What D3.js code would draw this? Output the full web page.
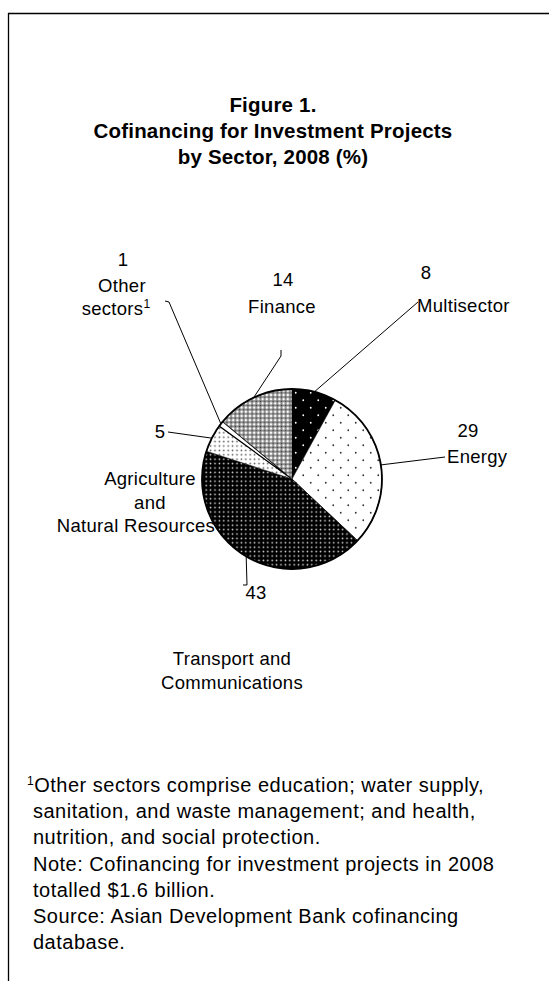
<!DOCTYPE html>
<html>
<head>
<meta charset="utf-8">
<script src="https://cdn.jsdelivr.net/npm/d3@7"></script>
<style>
  html, body { margin: 0; padding: 0; background: #fff; }
  svg { display: block; }
  text { font-family: "Liberation Sans", Arial, sans-serif; fill: #000; }
</style>
</head>
<body>
<div id="chart"></div>
<script>
// ---- data ----
const sectors = ["Multisector", "Energy", "Transport and Communications", "Agriculture and Natural Resources", "Other sectors", "Finance"];
const shares  = [8, 29, 43, 5, 1, 14];
const valueLabels = ["8", "29", "43", "5", "1", "14"];
const titleLines = ["Figure 1.", "Cofinancing for Investment Projects", "by Sector, 2008 (%)"];
const noteLines = [
  "Other sectors comprise education; water supply,",
  "sanitation, and waste management; and health,",
  "nutrition, and social protection.",
  "Note: Cofinancing for investment projects in 2008",
  "totalled $1.6 billion.",
  "Source: Asian Development Bank cofinancing",
  "database."
];

// ---- layout ----
const W = 549, H = 981;
const cx = 292, cy = 479, R = 90;
const patterns = ["pMulti", "pEnergy", "pTrans", "pAgri", "pOther", "pFin"];
const labelLayout = [
  { value: [426, 279, "middle"], name: [[417, 312, "start", "Multisector"]], leader: [[418, 302]] },
  { value: [468, 437, "middle"], name: [[447, 463, "start", "Energy"]], leader: [[445, 457]] },
  { value: [256, 599, "middle"], name: [[232, 665, "middle", "Transport and"], [232, 689, "middle", "Communications"]], leader: [[247, 585], [243, 585]] },
  { value: [160, 438, "middle"], name: [[150, 485, "middle", "Agriculture"], [150, 509, "middle", "and"], [136, 532, "middle", "Natural Resources"]], leader: [[168, 432]] },
  { value: [123, 266, "middle"], name: [[122, 292, "middle", "Other"], [116, 315, "middle", "sectors"]], leader: [[169, 302], [165, 301]] },
  { value: [283, 286, "middle"], name: [[282, 313, "middle", "Finance"]], leader: [[281, 356], [281, 350]] }
];

const svg = d3.select("#chart").append("svg").attr("width", W).attr("height", H);

// patterns
const defs = svg.append("defs");
function dotPattern(id, size, bg, dot, r, stagger) {
  const p = defs.append("pattern").attr("id", id).attr("patternUnits", "userSpaceOnUse")
    .attr("width", size).attr("height", size);
  p.append("rect").attr("width", size).attr("height", size).attr("fill", bg);
  if (stagger) {
    p.append("circle").attr("cx", size / 4).attr("cy", size / 4).attr("r", r).attr("fill", dot);
    p.append("circle").attr("cx", 3 * size / 4).attr("cy", 3 * size / 4).attr("r", r).attr("fill", dot);
  } else {
    p.append("circle").attr("cx", size / 2).attr("cy", size / 2).attr("r", r).attr("fill", dot);
  }
}
dotPattern("pMulti", 15, "#000", "#fff", 0.9, true);
dotPattern("pEnergy", 15, "#fff", "#333", 0.9, true);
dotPattern("pTrans", 4.4, "#000", "#ddd", 0.85, false);
dotPattern("pAgri", 4.4, "#fff", "#555", 0.85, false);
dotPattern("pOther", 4, "#fff", "#fff", 0.5, false);
(function () {
  const s = 4.2;
  const p = defs.append("pattern").attr("id", "pFin").attr("patternUnits", "userSpaceOnUse")
    .attr("width", s).attr("height", s);
  p.append("rect").attr("width", s).attr("height", s).attr("fill", "#8a8a8a");
  [[0, 0], [s, 0], [0, s], [s, s]].forEach(([x, y]) =>
    p.append("circle").attr("cx", x).attr("cy", y).attr("r", 1.25).attr("fill", "#fff"));
  p.append("circle").attr("cx", s / 2).attr("cy", s / 2).attr("r", 0.7).attr("fill", "#333");
})();

// frame
svg.append("line").attr("x1", 8).attr("y1", 13.5).attr("x2", W).attr("y2", 13.5)
  .attr("stroke", "#000").attr("stroke-width", 1.3);
svg.append("line").attr("x1", 8.5).attr("y1", 13).attr("x2", 8.5).attr("y2", H)
  .attr("stroke", "#000").attr("stroke-width", 1.3);

// title
svg.append("g").selectAll("text").data(titleLines).join("text")
  .attr("x", 273).attr("y", (d, i) => 112 + i * 26)
  .attr("text-anchor", "middle")
  .style("font-weight", "bold").style("font-size", "20.5px").style("letter-spacing", "0.2px")
  .text(d => d);

// pie
const pie = d3.pie().sort(null).value(d => d)(shares);
const arc = d3.arc().innerRadius(0).outerRadius(R);
const g = svg.append("g").attr("transform", `translate(${cx},${cy})`);
g.selectAll("path").data(pie).join("path")
  .attr("d", arc)
  .attr("fill", (d, i) => `url(#${patterns[i]})`)
  .attr("stroke", "#000").attr("stroke-width", (d, i) => i === 4 ? 1.2 : 0.6);
g.append("circle").attr("r", R).attr("fill", "none").attr("stroke", "#000").attr("stroke-width", 1.8);

// leaders and labels
const edge = (a) => [cx + R * Math.sin(a), cy - R * Math.cos(a)];
const lab = svg.append("g").style("font-size", "18.5px").style("letter-spacing", "0.3px");
pie.forEach((d, i) => {
  const L = labelLayout[i];
  const mid = (d.startAngle + d.endAngle) / 2;
  const pts = [edge(mid)].concat(L.leader);
  svg.append("path").attr("d", d3.line()(pts)).attr("fill", "none")
    .attr("stroke", "#000").attr("stroke-width", 1);
  lab.append("text").attr("x", L.value[0]).attr("y", L.value[1]).attr("text-anchor", L.value[2])
    .text(valueLabels[i]);
  L.name.forEach(n => {
    const t = lab.append("text").attr("x", n[0]).attr("y", n[1]).attr("text-anchor", n[2]).text(n[3]);
    if (i === 4 && n[3] === "sectors") {
      t.append("tspan").attr("dy", -7).style("font-size", "12px").text("1");
    }
  });
});

// notes
const notes = svg.append("g").style("font-size", "20px").style("letter-spacing", "0.5px");
noteLines.forEach((line, i) => {
  const t = notes.append("text").attr("x", 33).attr("y", 792 + i * 26.2);
  if (i === 0) {
    t.append("tspan").attr("x", 27).attr("dy", -7).style("font-size", "12px").text("1");
    t.append("tspan").attr("dy", 7).text(line);
  } else {
    t.text(line);
  }
});
</script>
</body>
</html>
